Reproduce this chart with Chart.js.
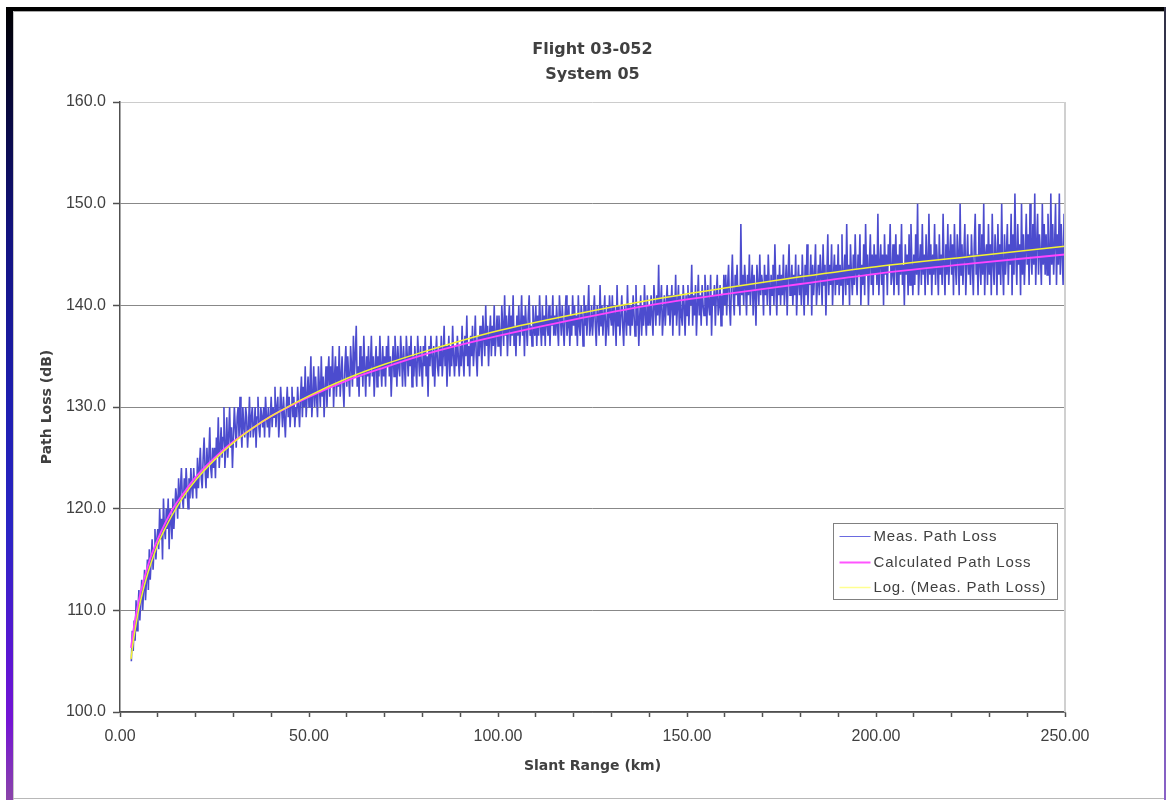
<!DOCTYPE html>
<html>
<head>
<meta charset="utf-8">
<title>Flight 03-052 System 05</title>
<script src="https://cdn.jsdelivr.net/npm/chart.js@4/dist/chart.umd.min.js"></script>
<style>
  html, body { margin: 0; padding: 0; background: #fff; }
  #wrap { position: relative; width: 1166px; height: 800px; overflow: hidden; background: #fff; }
  #chart { position: absolute; left: 0; top: 0; }
  .edge { position: absolute; }
  #edgeTop { left: 6px; top: 7px; width: 1159px; height: 4px; background: #000; }
  #edgeShade { left: 13px; top: 11px; width: 1151px; height: 1px; background: #a8a8a8; }
  #edgeShadeL { left: 13px; top: 11px; width: 1px; height: 789px; background: #c8c8c8; }
  #edgeLeft { left: 6px; top: 7px; width: 7px; height: 793px;
    background: linear-gradient(to bottom, #000 0%, #08083a 12%, #12127e 28%, #1e1eb0 50%, #2a24c4 66%, #5a16d2 82%, #7414d4 90%, #8a44a8 100%); }
  #edgeRight { left: 1164px; top: 7px; width: 2px; height: 793px;
    background: linear-gradient(to bottom, #303044 0%, #4a4a90 50%, #8a62c8 100%); }
  #edgeBottom { left: 13px; top: 798px; width: 1151px; height: 1px; background: #b8b8b8; }
</style>
</head>
<body>
<div id="wrap">
  <canvas id="chart" width="1166" height="800"></canvas>
  <div class="edge" id="edgeShade"></div>
  <div class="edge" id="edgeShadeL"></div>
  <div class="edge" id="edgeTop"></div>
  <div class="edge" id="edgeLeft"></div>
  <div class="edge" id="edgeRight"></div>
  <div class="edge" id="edgeBottom"></div>
</div>
<script>
// ---- text ----
const chartTitle = ['Flight 03-052', 'System 05'];
const xAxisTitle = 'Slant Range (km)';
const yAxisTitle = 'Path Loss (dB)';
const seriesNames = ['Meas. Path Loss', 'Calculated Path Loss', 'Log. (Meas. Path Loss)'];

// ---- axes ----
const rangeLabelTicksKm = [0, 50, 100, 150, 200, 250];
const rangeMinKm = 0, rangeMaxKm = 250, rangeMinorStepKm = 10;
const lossMinDb = 100, lossMaxDb = 160, lossStepDb = 10;

// ---- measured path loss, one sample every 0.25 km from 3.0 km (20 samples per 5 km row) ----
const measStartKm = 3.0;
const measStepKm = 0.25;
const measPathLossDb = [
  105,108,106,109,107,111,108,110,
  112,109,111,113,110,112,114,111,113,115, 112,116,113,115,117,114,116,118,115,117,
  118,116,120,117,119,115,121,118,117,120, 118,121,116,120,119,117,121,118,120,122,
  121,119,123,120,122,124,121,120,123,121, 124,122,120,123,121,124,122,121,124,122,
  123,121,125,122,124,126,123,122,125,127, 124,122,126,123,125,128,124,123,126,124,
  126,123,127,125,129,124,126,128,125,127, 130,124,126,129,125,127,130,126,128,124,
  127,130,128,126,129,130,127,131,128,126, 130,128,127,130,129,126,128,131,127,129,
  130,127,128,130,126,129,131,128,127,130, 129,128,130,127,131,129,128,130,127,129,
  131,128,130,129,132,128,130,131,127,129, 132,130,128,131,129,127,130,132,129,131,
  128,130,132,129,131,128,130,129,132,130, 128,131,133,129,132,130,134,129,131,133,
  130,132,135,129,131,134,130,133,131,129, 134,132,130,135,131,133,129,132,134,130,
  133,135,131,134,132,136,130,133,135,131, 134,132,136,131,133,135,132,130,134,136,
  132,135,133,131,136,134,132,137,133,135, 138,132,134,131,136,133,135,132,137,134,
  131,135,133,136,132,134,137,133,135,131, 134,136,132,135,133,137,134,132,136,133,
  135,132,136,134,137,133,135,131,134,136, 133,137,135,132,136,134,133,137,135,132,
  136,134,132,137,135,133,136,134,137,132, 135,133,136,134,132,137,135,133,136,134,
  132,136,134,137,133,135,131,136,134,137, 135,133,136,132,135,137,134,133,136,134,
  137,133,135,138,134,136,132,135,137,133, 136,134,138,135,133,136,134,137,135,133,
  136,134,138,135,133,137,135,139,134,136, 133,137,135,138,134,136,139,135,133,137,
  135,138,136,134,139,137,135,140,136,138, 134,137,139,135,138,136,140,135,137,139,
  136,139,137,135,140,138,136,141,137,139, 135,138,140,136,139,137,141,136,138,135,
  139,137,140,136,138,141,137,139,135,140, 138,136,139,141,137,138,136,140,138,137,
  140,136,139,137,141,138,136,140,137,139, 136,141,138,137,140,136,139,138,141,137,
  139,137,140,138,136,141,139,137,140,138, 136,139,141,137,138,140,136,139,137,141,
  138,140,137,139,136,141,138,137,140,139, 136,141,138,140,137,139,142,137,138,140,
  137,139,141,138,136,140,139,137,142,138, 140,137,139,141,136,138,140,137,141,139,
  138,141,137,140,139,136,142,138,140,137, 139,141,138,136,140,139,137,142,138,140,
  137,140,138,141,139,137,142,138,140,136, 139,141,137,140,138,142,139,137,141,138,
  140,138,141,139,137,142,140,138,141,139, 144,138,140,142,137,139,141,138,140,142,
  139,141,138,140,142,137,141,139,143,138, 140,142,137,141,139,138,142,140,137,141,
  139,142,138,141,140,144,138,141,139,142, 137,140,143,139,141,138,142,140,139,143,
  141,138,142,140,139,143,137,141,140,142, 138,141,143,139,140,142,138,141,139,143,
  140,143,139,142,144,140,138,142,145,141, 139,143,141,144,140,142,139,148,141,143,
  140,144,142,139,143,141,145,140,142,144, 139,143,141,138,144,142,140,145,141,143,
  142,139,144,141,143,140,145,142,139,143, 141,144,140,146,142,139,143,141,144,140,
  143,141,145,140,142,144,139,143,146,141, 142,144,140,143,141,145,139,142,144,141,
  143,140,145,142,139,144,141,146,140,143, 142,145,139,144,141,143,146,140,142,144,
  141,145,143,140,146,142,144,139,143,147, 141,144,142,146,140,143,145,141,144,142,
  146,141,144,142,147,140,143,145,141,148, 142,144,140,146,143,141,145,142,147,143,
  141,145,143,147,140,144,142,146,141,148, 143,145,140,144,147,142,145,141,146,143,
  145,142,149,141,144,146,142,145,140,147, 143,145,141,146,144,148,142,143,146,141,
  144,147,142,145,141,146,143,148,142,144, 140,146,143,145,141,147,142,148,144,141,
  145,142,147,143,150,141,144,146,142,148, 143,145,141,147,144,142,149,143,146,141,
  145,143,148,142,146,144,141,147,143,145, 142,149,144,141,146,143,148,142,145,147,
  143,146,141,148,144,142,147,145,141,150, 143,146,142,145,148,141,144,147,143,145,
  142,147,144,141,146,149,143,145,141,148, 144,142,147,143,150,141,145,146,142,148,
  143,146,141,149,144,142,147,145,141,148, 143,146,142,150,144,141,147,143,145,148,
  142,146,144,149,141,147,143,151,145,142, 148,144,146,141,150,143,147,142,145,149,
  144,147,142,150,145,143,148,144,151,142, 146,149,143,147,145,142,150,144,148,143,
  147,143,149,145,142,151,144,148,143,146, 150,142,147,144,151,143,148,145,142,149,
  146
];

// ---- calculated and fitted curves ----
const curveRangeKm = [2.9, 3.5, 4, 5, 6, 7, 8, 10, 12, 14, 17, 20, 25, 30, 35, 40, 50,
                      60, 70, 80, 90, 100, 120, 140, 160, 180, 200, 225, 250];
const calcPathLossDb = [106.3, 107.9, 109.1, 111.0, 112.6, 113.9, 115.1, 117.0, 118.6, 120.0,
                        121.6, 123.1, 125.0, 126.6, 127.9, 129.1, 131.0, 132.6, 133.9, 135.1,
                        136.1, 137.0, 138.6, 140.0, 141.1, 142.1, 143.1, 144.1, 145.0];
const logFitPathLossDb = [105.2, 106.9, 108.1, 110.2, 111.8, 113.2, 114.4, 116.5, 118.1, 119.5,
                          121.3, 122.8, 124.8, 126.5, 127.9, 129.1, 131.1, 132.8, 134.2, 135.4,
                          136.5, 137.5, 139.1, 140.5, 141.7, 142.8, 143.8, 144.8, 145.8];

const measPoints = measPathLossDb.map((v, i) => ({ x: measStartKm + i * measStepKm, y: v }));
const calcPoints = curveRangeKm.map((d, i) => ({ x: d, y: calcPathLossDb[i] }));
const logFitPoints = curveRangeKm.map((d, i) => ({ x: d, y: logFitPathLossDb[i] }));

const textGray = '#404040';
const axisGray = '#505050';

// light-grey frame on the right side of the plot area
const plotFrame = {
  id: 'plotFrame',
  afterDatasetsDraw(chart) {
    const { ctx, chartArea: a } = chart;
    ctx.save();
    ctx.strokeStyle = '#d0d0d0';
    ctx.lineWidth = 2;
    ctx.beginPath();
    ctx.moveTo(a.right, a.top);
    ctx.lineTo(a.right, a.bottom);
    ctx.stroke();
    ctx.restore();
  }
};

// boxed legend placed inside the plot area, lower right
const insetLegend = {
  id: 'insetLegend',
  afterDraw(chart) {
    const { ctx, chartArea: a } = chart;
    const bx = a.right - 231.5, by = a.bottom - 188.5, bw = 224, bh = 76;
    ctx.save();
    ctx.fillStyle = '#fff';
    ctx.fillRect(bx, by, bw, bh);
    ctx.strokeStyle = '#808080';
    ctx.lineWidth = 1;
    ctx.strokeRect(bx, by, bw, bh);
    ctx.font = '15px "Liberation Sans", Arial, sans-serif';
    ctx.textBaseline = 'middle';
    ctx.textAlign = 'left';
    try { ctx.letterSpacing = '0.8px'; } catch (e) {}
    const rowY = [12.5, 38, 63.5];
    chart.data.datasets.forEach((ds, i) => {
      const y = Math.round(by + rowY[i]) + 0.5;
      ctx.strokeStyle = ds.legendColor;
      ctx.lineWidth = ds.legendWidth;
      ctx.beginPath();
      ctx.moveTo(bx + 6, y);
      ctx.lineTo(bx + 37, y);
      ctx.stroke();
      ctx.fillStyle = textGray;
      ctx.fillText(ds.label, bx + 40, y);
    });
    ctx.restore();
  }
};

new Chart(document.getElementById('chart'), {
  type: 'line',
  data: {
    datasets: [
      { label: seriesNames[0], data: measPoints, borderColor: '#4c4cce', borderWidth: 1.6,
        pointRadius: 0, tension: 0, order: 3, legendColor: '#6a6ae0', legendWidth: 1 },
      { label: seriesNames[1], data: calcPoints, borderColor: '#ff44ff', borderWidth: 1.8,
        pointRadius: 0, cubicInterpolationMode: 'monotone', order: 2, legendColor: '#ff55ff', legendWidth: 2 },
      { label: seriesNames[2], data: logFitPoints, borderColor: '#f4f430', borderWidth: 1.5,
        pointRadius: 0, cubicInterpolationMode: 'monotone', order: 1, legendColor: '#ffff90', legendWidth: 1.5 }
    ]
  },
  options: {
    responsive: false,
    devicePixelRatio: 1,
    animation: false,
    events: [],
    layout: { padding: { left: 0, right: 101, top: 0, bottom: 0 } },
    plugins: {
      legend: { display: false },
      tooltip: { enabled: false },
      title: {
        display: true,
        fullSize: false,
        text: chartTitle,
        color: textGray,
        font: { family: '"DejaVu Sans", Verdana, sans-serif', size: 16, weight: 'bold', lineHeight: 25 / 16 },
        padding: { top: 37, bottom: 15 }
      }
    },
    scales: {
      x: {
        type: 'linear',
        min: rangeMinKm,
        max: rangeMaxKm,
        afterFit(s) { s.height = 88; },
        border: { display: true, color: axisGray, width: 1.5 },
        grid: { display: true, drawOnChartArea: false, drawTicks: true, tickLength: 5, tickColor: axisGray, tickWidth: 1.5 },
        ticks: {
          stepSize: rangeMinorStepKm,
          autoSkip: false,
          maxRotation: 0,
          padding: 10,
          color: textGray,
          font: { family: '"Liberation Sans", Arial, sans-serif', size: 16 },
          callback: (v) => rangeLabelTicksKm.includes(v) ? v.toFixed(2) : ''
        },
        title: {
          display: true,
          text: xAxisTitle,
          color: textGray,
          font: { family: '"DejaVu Sans", Verdana, sans-serif', size: 14, weight: 'bold' },
          padding: { top: 0, bottom: 25.6 }
        }
      },
      y: {
        min: lossMinDb,
        max: lossMaxDb,
        afterFit(s) { s.width = 120; },
        border: { display: true, color: axisGray, width: 1.5 },
        grid: {
          color: (c) => (c.tick && c.tick.value === lossMaxDb) ? '#cccccc' : '#888888',
          lineWidth: 1,
          drawTicks: true,
          tickLength: 7,
          tickColor: axisGray,
          tickWidth: 1.5
        },
        ticks: {
          stepSize: lossStepDb,
          padding: 7,
          color: textGray,
          font: { family: '"Liberation Sans", Arial, sans-serif', size: 16 },
          callback: (v) => Number(v).toFixed(1)
        },
        title: {
          display: true,
          text: yAxisTitle,
          color: textGray,
          font: { family: '"DejaVu Sans", Verdana, sans-serif', size: 14, weight: 'bold' },
          padding: { top: 38.6, bottom: 0 }
        }
      }
    }
  },
  plugins: [plotFrame, insetLegend]
});
</script>
</body>
</html>
